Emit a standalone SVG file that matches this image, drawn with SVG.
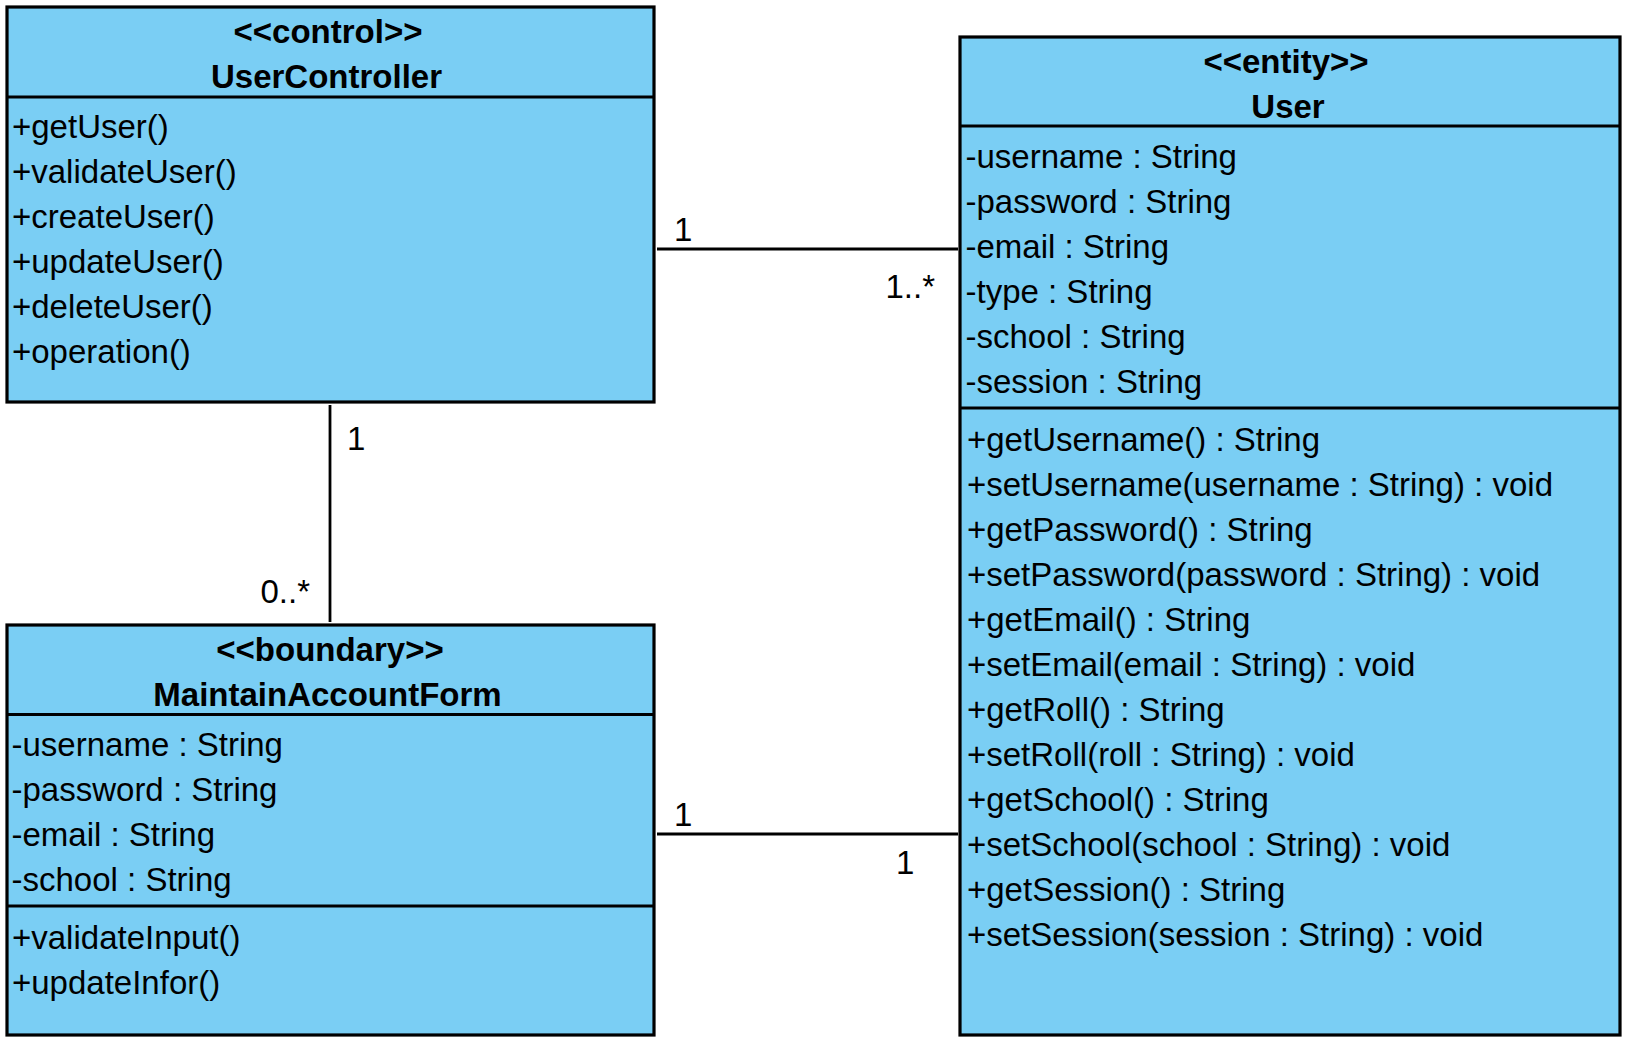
<svg xmlns="http://www.w3.org/2000/svg" width="1634" height="1063" viewBox="0 0 1634 1063">
<style>
  .box { fill: #7ACEF4; stroke: #000; stroke-width: 3.2; }
  .div { stroke: #000; stroke-width: 3.2; }
  .conn { stroke: #000; stroke-width: 2.8; fill: none; }
  text { font-family: "Liberation Sans", Arial, sans-serif; font-size: 33px; fill: #000; }
  .title { font-weight: bold; text-anchor: middle; }
  .end { text-anchor: end; }
</style>
<rect x="0" y="0" width="1634" height="1063" fill="#fff"/>

<g id="connectors">
  <line class="conn" x1="657" y1="249" x2="958" y2="249"/>
  <line class="conn" x1="330" y1="405" x2="330" y2="622"/>
  <line class="conn" x1="657" y1="834" x2="958" y2="834"/>
  <text x="674" y="241">1</text>
  <text class="end" x="935" y="298">1..*</text>
  <text x="347" y="450">1</text>
  <text class="end" x="310" y="603">0..*</text>
  <text x="674" y="826">1</text>
  <text x="896" y="874">1</text>
</g>

<g id="UserController">
  <rect class="box" x="7" y="7" width="647" height="395"/>
  <line class="div" x1="7" y1="97" x2="654" y2="97"/>
  <text class="title" x="328" y="43">&lt;&lt;control&gt;&gt;</text>
  <text class="title" x="326.5" y="88">UserController</text>
  <text x="12" y="138">+getUser()</text>
  <text x="12" y="183">+validateUser()</text>
  <text x="12" y="228">+createUser()</text>
  <text x="12" y="273">+updateUser()</text>
  <text x="12" y="318">+deleteUser()</text>
  <text x="12" y="363">+operation()</text>
</g>

<g id="MaintainAccountForm">
  <rect class="box" x="7" y="625" width="647" height="410"/>
  <line class="div" x1="7" y1="714.5" x2="654" y2="714.5"/>
  <line class="div" x1="7" y1="906" x2="654" y2="906"/>
  <text class="title" x="330" y="661">&lt;&lt;boundary&gt;&gt;</text>
  <text class="title" x="327.5" y="706">MaintainAccountForm</text>
  <text x="11.5" y="756">-username : String</text>
  <text x="11.5" y="801">-password : String</text>
  <text x="11.5" y="846">-email : String</text>
  <text x="11.5" y="891">-school : String</text>
  <text x="12" y="949">+validateInput()</text>
  <text x="12" y="994">+updateInfor()</text>
</g>

<g id="User">
  <rect class="box" x="960" y="37" width="660" height="998"/>
  <line class="div" x1="960" y1="126" x2="1620" y2="126"/>
  <line class="div" x1="960" y1="408" x2="1620" y2="408"/>
  <text class="title" x="1286" y="73">&lt;&lt;entity&gt;&gt;</text>
  <text class="title" x="1288" y="118">User</text>
  <text x="965.5" y="167.5">-username : String</text>
  <text x="965.5" y="212.5">-password : String</text>
  <text x="965.5" y="257.5">-email : String</text>
  <text x="965.5" y="302.5">-type : String</text>
  <text x="965.5" y="347.5">-school : String</text>
  <text x="965.5" y="392.5">-session : String</text>
  <text x="967" y="451">+getUsername() : String</text>
  <text x="967" y="496">+setUsername(username : String) : void</text>
  <text x="967" y="541">+getPassword() : String</text>
  <text x="967" y="586">+setPassword(password : String) : void</text>
  <text x="967" y="631">+getEmail() : String</text>
  <text x="967" y="676">+setEmail(email : String) : void</text>
  <text x="967" y="721">+getRoll() : String</text>
  <text x="967" y="766">+setRoll(roll : String) : void</text>
  <text x="967" y="811">+getSchool() : String</text>
  <text x="967" y="856">+setSchool(school : String) : void</text>
  <text x="967" y="901">+getSession() : String</text>
  <text x="967" y="946">+setSession(session : String) : void</text>
</g>
</svg>
